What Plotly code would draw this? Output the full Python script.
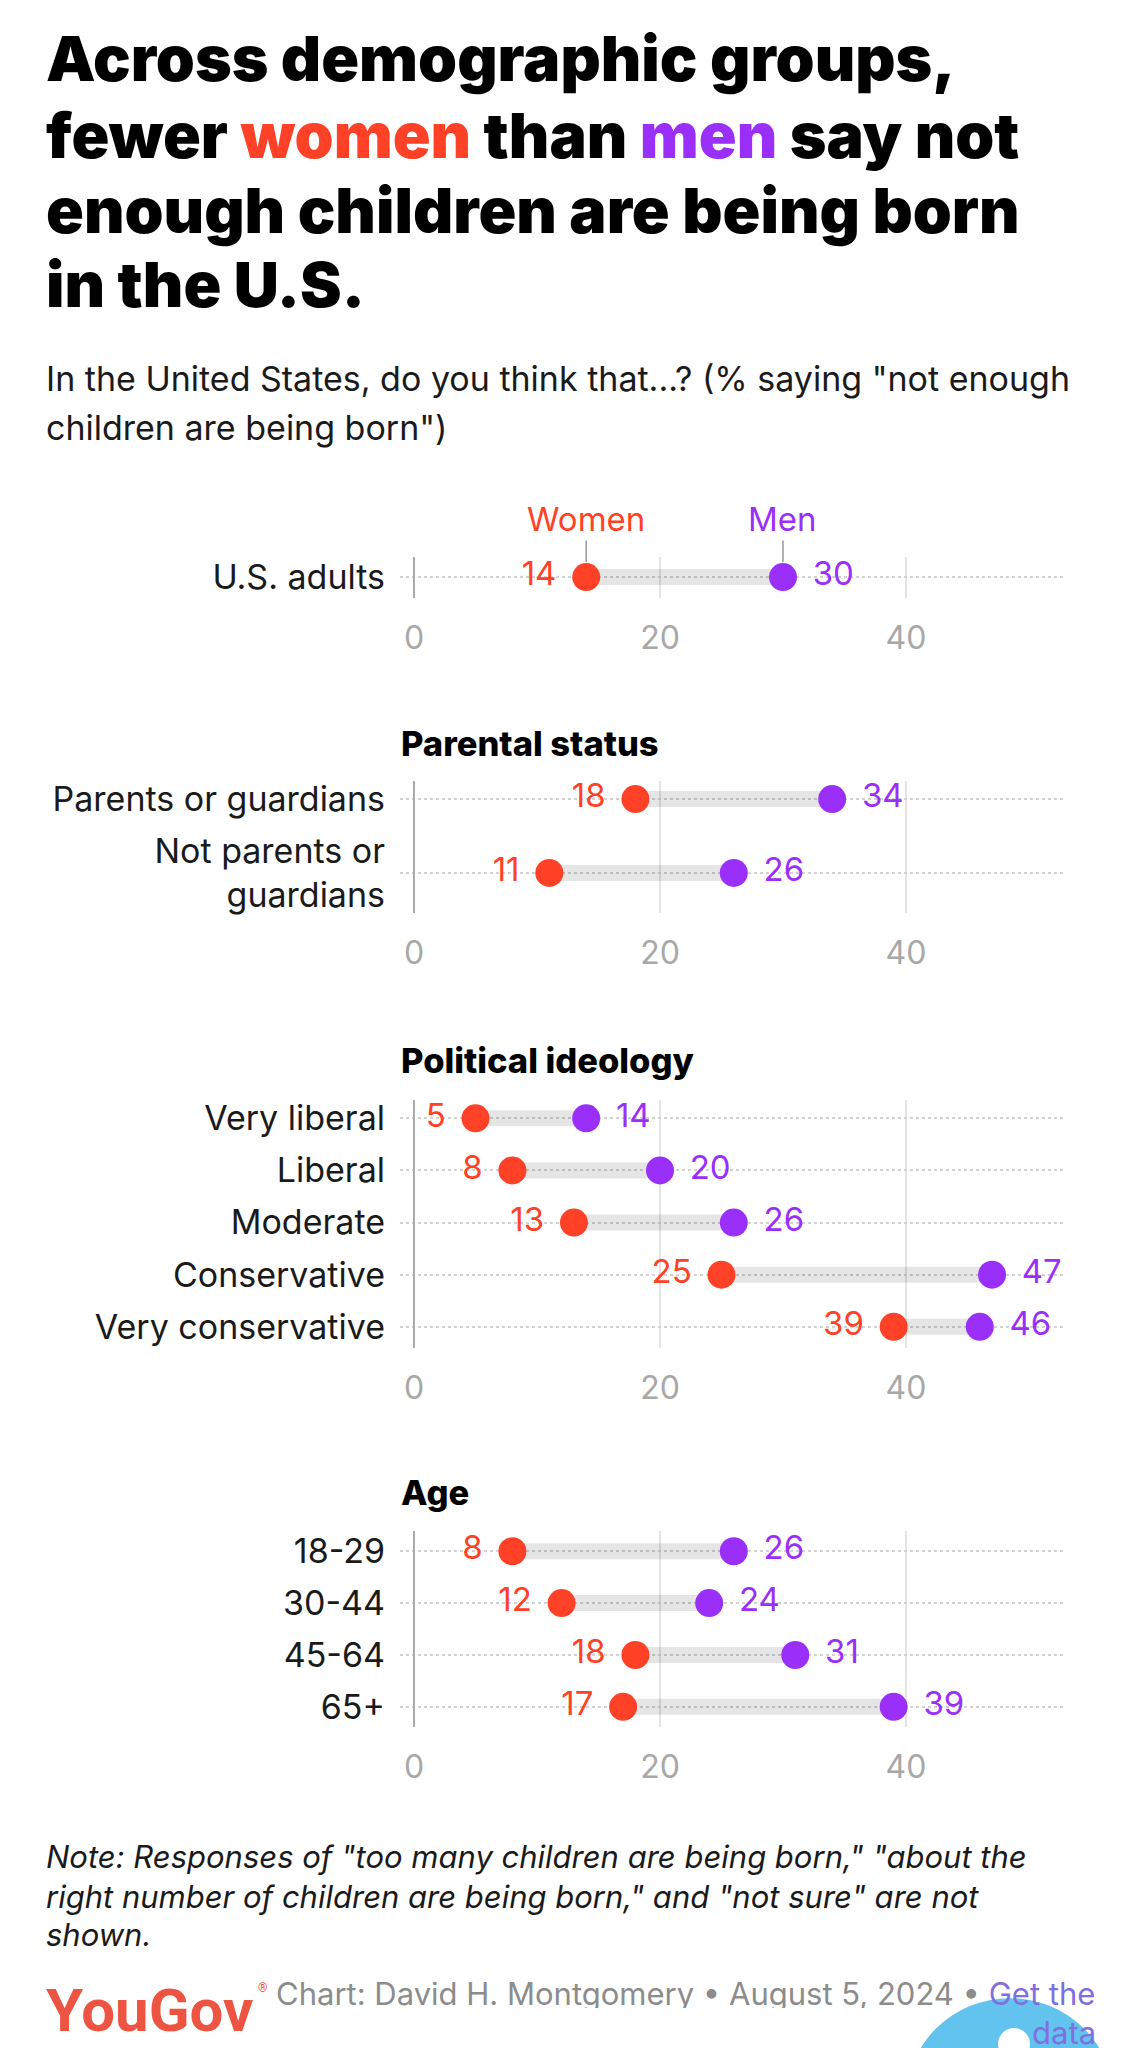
import plotly.graph_objects as go

# ---------------- data ----------------
us_labels = ["U.S. adults"]
us_women = [14]
us_men = [30]

parent_labels = ["Parents or guardians", "Not parents or<br>guardians"]
parent_women = [18, 11]
parent_men = [34, 26]

ideo_labels = ["Very liberal", "Liberal", "Moderate", "Conservative", "Very conservative"]
ideo_women = [5, 8, 13, 25, 39]
ideo_men = [14, 20, 26, 47, 46]

age_labels = ["18-29", "30-44", "45-64", "65+"]
age_women = [8, 12, 18, 17]
age_men = [26, 24, 31, 39]

section_titles = [None, "Parental status", "Political ideology", "Age"]
tick_vals = [0, 20, 40]
tick_text = ["0", "20", "40"]

# ---------------- styling ----------------
W, H = 1142, 2048
OFF = 8  # page body margin
WOMEN_C = "#FF4127"
MEN_C = "#9B2FFA"
FONT = "Inter"
HEAVY = "Inter"

def py(px):
    return 1 - (px - OFF) / H

def pxx(px):
    return (px - OFF) / W

panels = [
    (us_labels, us_women, us_men),
    (parent_labels, parent_women, parent_men),
    (ideo_labels, ideo_women, ideo_men),
    (age_labels, age_women, age_men),
]
# (domain top px, domain bottom px, row-gap-top px, row-gap-bottom px, header y px)
geom = [
    (555, 596, None, None, None),
    (780, 912, 18, 40, 742),
    (1100, 1348, 18, 21, 1060),
    (1532, 1728, 20, 20, 1493),
]

fig = go.Figure()
XDOM = [pxx(400), pxx(1064)]
XRANGE = [-1.14, 52.85]

annotations = []
for i, ((labels, women, men), (top, bot, gt, gb, hy)) in enumerate(zip(panels, geom)):
    n = len(labels)
    xa = "x" if i == 0 else f"x{i+1}"
    ya = "y" if i == 0 else f"y{i+1}"
    if n == 1:
        yr = [0.5, -0.5]
    else:
        sp = (bot - gb - (top + gt)) / (n - 1)
        yr = [n - 1 + gb / sp, -gt / sp]
    # connector bars
    cx, cy = [], []
    for lab, w, m in zip(labels, women, men):
        cx += [w, m, None]
        cy += [lab, lab, None]
    fig.add_trace(go.Scatter(x=cx, y=cy, mode="lines",
                             line=dict(color="rgba(0,0,0,0.10)", width=16),
                             hoverinfo="skip", showlegend=False, xaxis=xa, yaxis=ya))
    # dots
    fig.add_trace(go.Scatter(x=women, y=labels, mode="markers",
                             marker=dict(color=WOMEN_C, size=28),
                             showlegend=False, xaxis=xa, yaxis=ya, cliponaxis=False))
    fig.add_trace(go.Scatter(x=men, y=labels, mode="markers",
                             marker=dict(color=MEN_C, size=28),
                             showlegend=False, xaxis=xa, yaxis=ya, cliponaxis=False))
    # value labels
    fig.add_trace(go.Scatter(x=women, y=labels, mode="markers+text", text=[str(v) for v in women],
                             textposition="middle left",
                             textfont=dict(color=WOMEN_C, size=33, family=FONT),
                             marker=dict(size=46, opacity=0),
                             hoverinfo="skip", showlegend=False, xaxis=xa, yaxis=ya, cliponaxis=False))
    fig.add_trace(go.Scatter(x=men, y=labels, mode="markers+text", text=[str(v) for v in men],
                             textposition="middle right",
                             textfont=dict(color=MEN_C, size=33, family=FONT),
                             marker=dict(size=46, opacity=0),
                             hoverinfo="skip", showlegend=False, xaxis=xa, yaxis=ya, cliponaxis=False))

    xkey = "xaxis" if i == 0 else f"xaxis{i+1}"
    ykey = "yaxis" if i == 0 else f"yaxis{i+1}"
    fig.update_layout(**{
        xkey: dict(domain=XDOM, range=XRANGE, anchor=ya,
                   tickvals=tick_vals, ticktext=tick_text,
                   showgrid=True, gridcolor="#E4E4E4", gridwidth=2,
                   zeroline=True, zerolinecolor="#ABABAB", zerolinewidth=2,
                   showline=False, ticks="", ticklabelstandoff=18,
                   tickfont=dict(size=32, color="#A8A8A8", family=FONT),
                   fixedrange=True),
        ykey: dict(domain=[py(bot), py(top)], range=yr, anchor=xa,
                   type="category", categoryorder="array", categoryarray=labels,
                   showgrid=True, gridcolor="#D2D2D2", gridwidth=2, griddash="dot",
                   zeroline=False, showline=False, ticks="", ticklabelstandoff=14,
                   tickfont=dict(size=34, color="#1A1A1A", family=FONT),
                   fixedrange=True),
    })
    if hy is not None:
        annotations.append(dict(text=section_titles[i], x=pxx(399), y=py(hy), xref="paper", yref="paper",
                                xanchor="left", yanchor="middle", showarrow=False,
                                font=dict(size=34.5, color="#000", family=HEAVY, weight=800)))

# Women / Men callouts
annotations.append(dict(text="Women", x=us_women[0], y=us_labels[0], xref="x", yref="y",
                        showarrow=True, arrowhead=0, ax=0, ay=-58, standoff=15,
                        arrowcolor="#9A9A9A", arrowwidth=1.5,
                        font=dict(size=33, color=WOMEN_C, family=FONT)))
annotations.append(dict(text="Men", x=us_men[0], y=us_labels[0], xref="x", yref="y",
                        showarrow=True, arrowhead=0, ax=0, ay=-58, standoff=15,
                        arrowcolor="#9A9A9A", arrowwidth=1.5,
                        font=dict(size=33, color=MEN_C, family=FONT)))

# Title
title_lines = [
    "Across demographic groups,",
    f"fewer <span style='color:{WOMEN_C}'>women</span> than <span style='color:{MEN_C}'>men</span> say not",
    "enough children are being born",
    "in the U.S.",
]
for t, y in zip(title_lines, [55, 132, 207, 282]):
    annotations.append(dict(text=t, x=pxx(44), y=py(y), xref="paper", yref="paper",
                            xanchor="left", yanchor="middle", showarrow=False,
                            font=dict(size=62.5, color="#000", family=HEAVY, weight=900)))

# Subtitle
for t, y in zip(['In the United States, do you think that...? (% saying "not enough',
                 'children are being born")'], [376, 426]):
    annotations.append(dict(text=t, x=pxx(44), y=py(y), xref="paper", yref="paper",
                            xanchor="left", yanchor="middle", showarrow=False,
                            font=dict(size=34, color="#1A1A1A", family=FONT)))

# Note
for t, y in zip(['<i>Note: Responses of "too many children are being born," "about the</i>',
                 '<i>right number of children are being born," and "not sure" are not</i>',
                 '<i>shown.</i>'], [1858, 1898, 1936]):
    annotations.append(dict(text=t, x=pxx(44), y=py(y), xref="paper", yref="paper",
                            xanchor="left", yanchor="middle", showarrow=False,
                            font=dict(size=31, color="#1A1A1A", family=FONT)))

# Footer
annotations.append(dict(text="Chart: David H. Montgomery • August 5, 2024 • <span style='color:#7F6FE0'>Get the</span>",
                        x=pxx(274), y=py(1995), xref="paper", yref="paper", height=30,
                        xanchor="left", yanchor="middle", showarrow=False,
                        font=dict(size=31, color="#8C8C8C", family=FONT)))
annotations.append(dict(text="data", x=pxx(1098), y=py(2034), xref="paper", yref="paper", height=28,
                        xanchor="right", yanchor="middle", showarrow=False,
                        font=dict(size=31, color="#7F6FE0", family=FONT)))
annotations.append(dict(text="YouGov", x=pxx(44), y=py(2012), xref="paper", yref="paper",
                        xanchor="left", yanchor="middle", showarrow=False,
                        font=dict(size=60, color="#EE5442", family="Roboto", weight=700)))
annotations.append(dict(text="®", x=pxx(256), y=py(1990), xref="paper", yref="paper",
                        xanchor="left", yanchor="middle", showarrow=False,
                        font=dict(size=12, color="#EE5442", family="Roboto")))

shapes = [
    dict(type="circle", xref="paper", yref="paper",
         x0=pxx(905), x1=pxx(1115), y0=py(2210), y1=py(2000),
         fillcolor="#62C3EF", line=dict(width=0), layer="above"),
    dict(type="circle", xref="paper", yref="paper",
         x0=pxx(998), x1=pxx(1030), y0=py(2062), y1=py(2030),
         fillcolor="#FFFFFF", line=dict(width=0), layer="above"),
]

fig.update_layout(
    width=W, height=H,
    margin=dict(l=0, r=0, t=0, b=0),
    paper_bgcolor="#FFFFFF", plot_bgcolor="rgba(0,0,0,0)",
    font=dict(family=FONT),
    annotations=annotations,
    shapes=shapes,
    showlegend=False,
)

fig.write_html("out.html")
